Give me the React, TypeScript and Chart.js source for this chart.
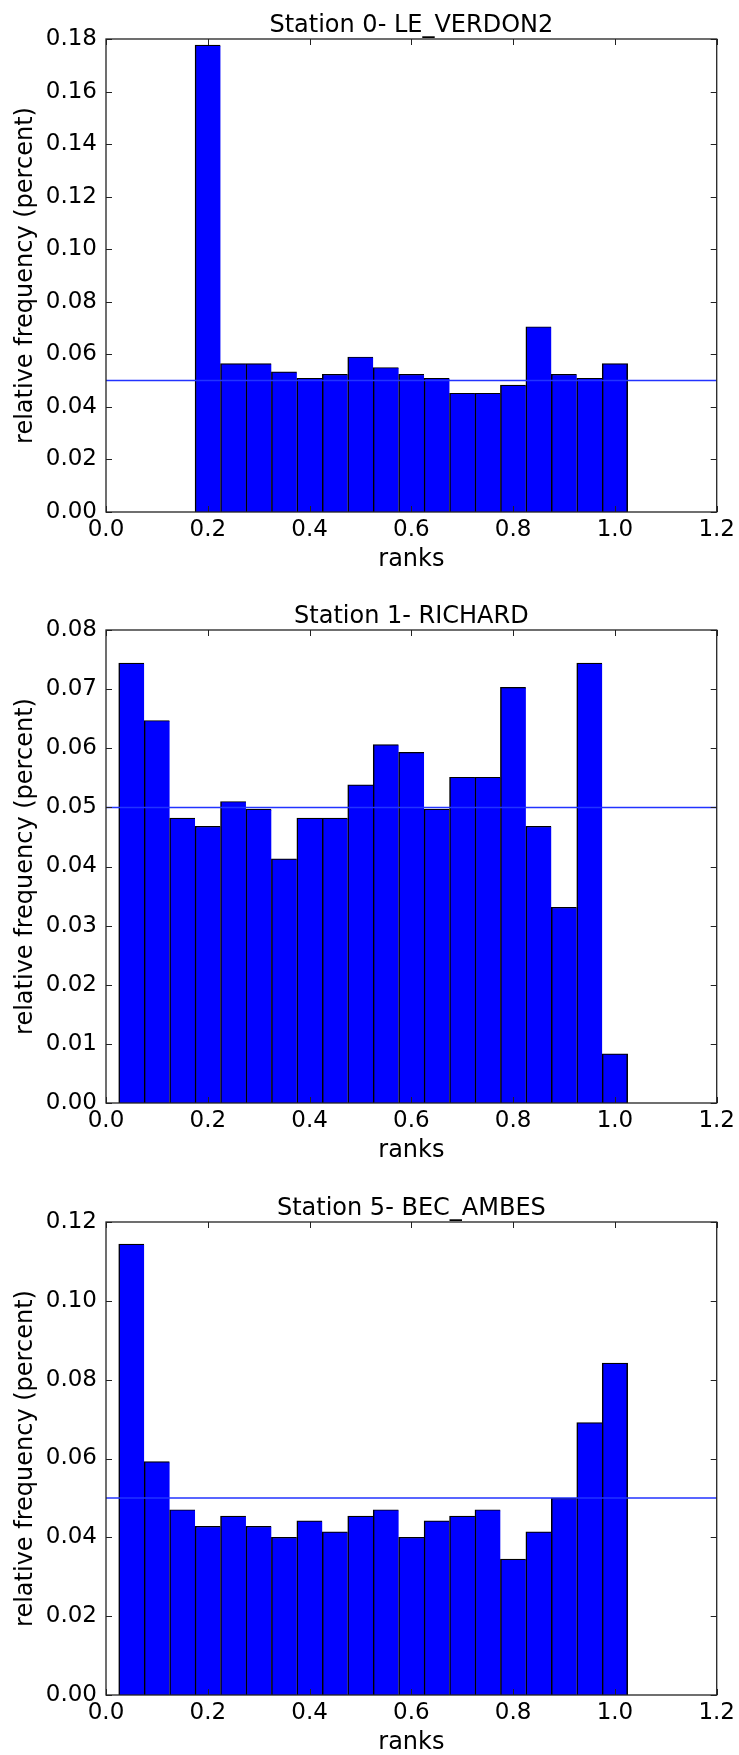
import React, { useEffect, useRef } from "react";
import { Chart, registerables } from "chart.js";

Chart.register(...registerables);

// ---- data ----
const stationTitles = ["Station 0- LE_VERDON2", "Station 1- RICHARD", "Station 5- BEC_AMBES"];

const ranksStation0 = [0.2, 0.25, 0.3, 0.35, 0.4, 0.45, 0.5, 0.55, 0.6, 0.65, 0.7, 0.75, 0.8, 0.85, 0.9, 0.95, 1.0];
const freqStation0 = [0.1777, 0.0565, 0.0565, 0.0533, 0.0509, 0.0524, 0.059, 0.055, 0.0524, 0.0509, 0.0452, 0.0452, 0.0483, 0.0705, 0.0524, 0.0509, 0.0565];

const ranksStation1 = [0.05, 0.1, 0.15, 0.2, 0.25, 0.3, 0.35, 0.4, 0.45, 0.5, 0.55, 0.6, 0.65, 0.7, 0.75, 0.8, 0.85, 0.9, 0.95, 1.0];
const freqStation1 = [0.0744, 0.0647, 0.0482, 0.0468, 0.051, 0.0497, 0.0413, 0.0482, 0.0482, 0.0538, 0.0606, 0.0593, 0.0497, 0.0551, 0.0551, 0.0703, 0.0468, 0.0331, 0.0744, 0.0083];

const ranksStation5 = [0.05, 0.1, 0.15, 0.2, 0.25, 0.3, 0.35, 0.4, 0.45, 0.5, 0.55, 0.6, 0.65, 0.7, 0.75, 0.8, 0.85, 0.9, 0.95, 1.0];
const freqStation5 = [0.1144, 0.0592, 0.047, 0.0428, 0.0454, 0.0428, 0.04, 0.0442, 0.0414, 0.0454, 0.047, 0.04, 0.0442, 0.0454, 0.047, 0.0345, 0.0414, 0.0499, 0.0691, 0.0842];

const yMaxes = [0.18, 0.08, 0.12];
const ySteps = [0.02, 0.01, 0.02];
const xRange = [0, 1.2];
const xStep = 0.2;
const uniformLevel = 0.05;

const FONT = '"DejaVu Sans", "Liberation Sans", sans-serif';

const decorPlugin = {
  id: "decor",
  afterDraw(chart: any, _args: any, opts: any) {
    const { ctx, chartArea: a, scales } = chart;
    ctx.save();
    // inside tick marks on all four sides
    const tl = 6;
    ctx.strokeStyle = "#222";
    ctx.lineWidth = 1;
    ctx.beginPath();
    scales.x.ticks.forEach((t: any) => {
      const px = Math.round(scales.x.getPixelForValue(t.value)) + 0.5;
      ctx.moveTo(px, a.bottom);
      ctx.lineTo(px, a.bottom - tl);
      ctx.moveTo(px, a.top);
      ctx.lineTo(px, a.top + tl);
    });
    scales.y.ticks.forEach((t: any) => {
      const py = Math.round(scales.y.getPixelForValue(t.value)) + 0.5;
      ctx.moveTo(a.left, py);
      ctx.lineTo(a.left + tl, py);
      ctx.moveTo(a.right, py);
      ctx.lineTo(a.right - tl, py);
    });
    ctx.stroke();
    // frame
    ctx.lineWidth = 1.3;
    ctx.strokeStyle = "#222";
    ctx.strokeRect(a.left, a.top, a.right - a.left, a.bottom - a.top);
    // texts
    ctx.fillStyle = "#000";
    ctx.font = `24px ${FONT}`;
    ctx.textAlign = "center";
    ctx.textBaseline = "alphabetic";
    const cx = (a.left + a.right) / 2;
    ctx.fillText(opts.title, cx, a.top - 7.5);
    ctx.fillText("ranks", cx, a.bottom + 54);
    ctx.translate(32, (a.top + a.bottom) / 2);
    ctx.rotate(-Math.PI / 2);
    ctx.fillText("relative frequency (percent)", 0, 0);
    ctx.restore();
  },
};

type PanelProps = {
  title: string;
  ranks: number[];
  freqs: number[];
  yMax: number;
  yStep: number;
  top: number;
  height: number;
};

function Panel({ title, ranks, freqs, yMax, yStep, top, height }: PanelProps) {
  const ref = useRef<HTMLCanvasElement | null>(null);
  useEffect(() => {
    if (!ref.current) return;
    const last = ranks.length - 1;
    const chart = new Chart(ref.current, {
      type: "bar",
      data: {
        datasets: [
          {
            type: "line",
            data: [
              { x: xRange[0], y: uniformLevel },
              { x: xRange[1], y: uniformLevel },
            ],
            borderColor: "#2233ff",
            borderWidth: 1.5,
            pointRadius: 0,
            order: 0,
          } as any,
          {
            type: "bar",
            data: ranks.map((r, i) => ({ x: r, y: freqs[i] })),
            backgroundColor: "#0000ff",
            borderColor: "#000000",
            borderWidth: (c: any) => ({ left: 1.5, top: 1.2, bottom: 0, right: c.dataIndex === last ? 1.5 : 0 }),
            borderSkipped: false,
            barPercentage: 1,
            categoryPercentage: 1,
            order: 1,
          } as any,
        ],
      },
      options: {
        responsive: false,
        animation: false,
        events: [],
        layout: { padding: { top: 39, right: 21, left: 0, bottom: 0 } },
        plugins: {
          legend: { display: false },
          tooltip: { enabled: false },
          title: { display: false },
          decor: { title },
        } as any,
        scales: {
          x: {
            type: "linear",
            offset: false,
            min: xRange[0],
            max: xRange[1],
            grid: { display: false, drawTicks: false, offset: false },
            border: { display: false },
            ticks: {
              stepSize: xStep,
              color: "#000",
              font: { family: FONT, size: 23 },
              padding: 4,
              maxRotation: 0,
              autoSkip: false,
              callback: (v: any) => Number(v).toFixed(1),
            },
            afterFit: (s: any) => {
              s.height = height - 39 - 473;
            },
          },
          y: {
            type: "linear",
            min: 0,
            max: yMax,
            grid: { display: false, drawTicks: false },
            border: { display: false },
            ticks: {
              stepSize: yStep,
              color: "#000",
              font: { family: FONT, size: 23 },
              padding: 9,
              autoSkip: false,
              callback: (v: any) => Number(v).toFixed(2),
            },
            afterFit: (s: any) => {
              s.width = 106;
            },
          },
        },
      } as any,
      plugins: [decorPlugin as any],
    });
    return () => chart.destroy();
  }, [title, ranks, freqs, yMax, yStep, height]);

  return (
    <canvas
      ref={ref}
      width={739}
      height={height}
      style={{ position: "absolute", left: 0, top, width: 739, height, display: "block" }}
    />
  );
}

export default function App() {
  return (
    <div style={{ position: "absolute", left: 0, top: 0, width: 739, height: 1755, background: "#fff" }}>
      <Panel title={stationTitles[0]} ranks={ranksStation0} freqs={freqStation0} yMax={yMaxes[0]} yStep={ySteps[0]} top={0} height={591} />
      <Panel title={stationTitles[1]} ranks={ranksStation1} freqs={freqStation1} yMax={yMaxes[1]} yStep={ySteps[1]} top={591} height={592} />
      <Panel title={stationTitles[2]} ranks={ranksStation5} freqs={freqStation5} yMax={yMaxes[2]} yStep={ySteps[2]} top={1183} height={572} />
    </div>
  );
}
